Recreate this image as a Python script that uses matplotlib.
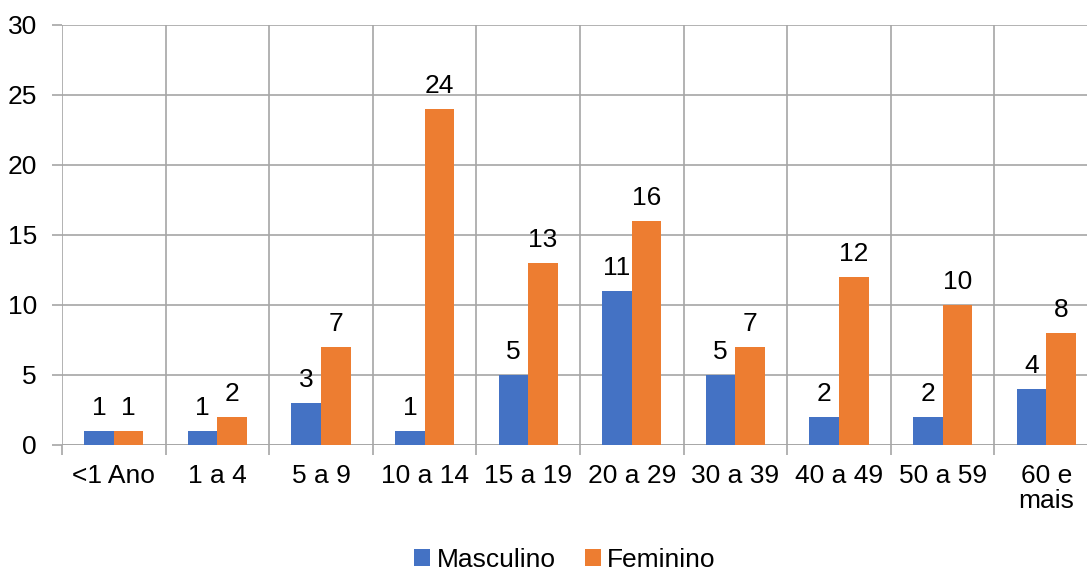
import numpy as np
import matplotlib.pyplot as plt

plt.rcParams['font.family'] = ['Liberation Sans', 'DejaVu Sans']

faixas = ['<1 Ano', '1 a 4', '5 a 9', '10 a 14', '15 a 19', '20 a 29',
          '30 a 39', '40 a 49', '50 a 59', '60 e\nmais']
masculino = [1, 1, 3, 1, 5, 11, 5, 2, 2, 4]
feminino = [1, 2, 7, 24, 13, 16, 7, 12, 10, 8]

azul = '#4472C4'
laranja = '#ED7D31'
cinza = '#A6A6A6'
fs = 19

fig = plt.figure(figsize=(10.87, 5.72), dpi=100)
ax = fig.add_axes([62 / 1087, 127 / 572, 1036 / 1087, 420 / 572])

x = np.arange(len(faixas))
w = 0.285
b1 = ax.bar(x - w / 2, masculino, w, color=azul, label='Masculino', zorder=3)
b2 = ax.bar(x + w / 2, feminino, w, color=laranja, label='Feminino', zorder=3)

for bars in (b1, b2):
    for rect in bars:
        h = rect.get_height()
        ax.annotate(f'{h:g}', (rect.get_x() + rect.get_width() / 2, h),
                    xytext=(0, 8), textcoords='offset points',
                    ha='center', va='bottom', fontsize=fs)

ax.set_xlim(-0.5, len(faixas) - 0.5)
ax.set_ylim(0, 30)
ax.set_yticks(range(0, 31, 5))
ax.tick_params(axis='y', labelsize=fs, length=7, color=cinza, width=1.2, pad=11)

# category boundaries drawn as vertical grid lines
ax.set_xticks(np.arange(-0.5, len(faixas)), minor=False)
ax.set_xticklabels([])
ax.set_xticks(x, minor=True)
ax.set_xticklabels(faixas, minor=True, fontsize=fs)
ax.tick_params(axis='x', which='major', length=7, color=cinza, width=1.2)
ax.tick_params(axis='x', which='minor', length=0, pad=14)
for lbl in ax.get_xticklabels(minor=True):
    lbl.set_linespacing(1.05)
    lbl.set_verticalalignment('top')

ax.grid(True, which='major', color=cinza, linewidth=1.2, zorder=0)
for s in ax.spines.values():
    s.set_visible(False)
ax.axhline(0, color=cinza, linewidth=1.2, zorder=2)

fig.legend(handles=[b1, b2], loc='center', bbox_to_anchor=(565 / 1087, 1 - 560 / 572),
           ncol=2, frameon=False, fontsize=fs, handlelength=0.6, handleheight=0.6,
           columnspacing=1.1, handletextpad=0.25, borderaxespad=0, borderpad=0)

fig.savefig('out.png', dpi=100)
